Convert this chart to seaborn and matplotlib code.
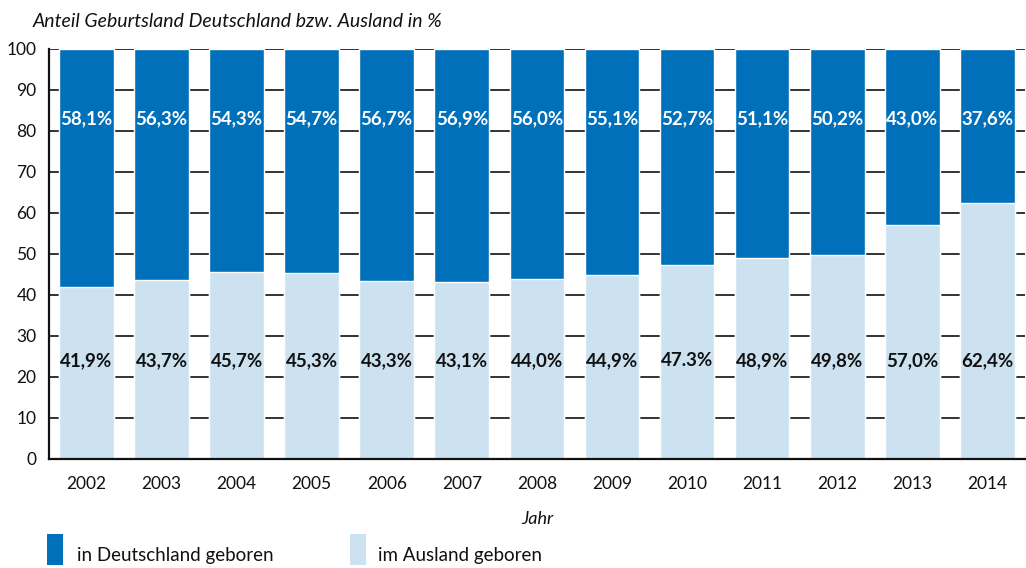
import matplotlib
matplotlib.use("Agg")
import matplotlib.pyplot as plt
from matplotlib.patches import Rectangle
import seaborn as sns
import pandas as pd
import numpy as np

years = ["2002", "2003", "2004", "2005", "2006", "2007", "2008",
         "2009", "2010", "2011", "2012", "2013", "2014"]
deutschland = [58.1, 56.3, 54.3, 54.7, 56.7, 56.9, 56.0, 55.1, 52.7, 51.1, 50.2, 43.0, 37.6]
ausland = [41.9, 43.7, 45.7, 45.3, 43.3, 43.1, 44.0, 44.9, 47.3, 48.9, 49.8, 57.0, 62.4]
label_de = ["58,1%", "56,3%", "54,3%", "54,7%", "56,7%", "56,9%", "56,0%",
            "55,1%", "52,7%", "51,1%", "50,2%", "43,0%", "37,6%"]
label_aus = ["41,9%", "43,7%", "45,7%", "45,3%", "43,3%", "43,1%", "44,0%",
             "44,9%", "47.3%", "48,9%", "49,8%", "57,0%", "62,4%"]
legend_labels = ["in Deutschland geboren", "im Ausland geboren"]

DARK = "#0070BA"
LIGHT = "#CCE2F0"
INK = "#111111"

sns.set_theme(style="white")
plt.rcParams["font.family"] = ["Lato", "DejaVu Sans"]

df = pd.DataFrame({"Jahr": years, "de": deutschland, "aus": ausland})
df["total"] = df["de"] + df["aus"]

fig = plt.figure(figsize=(10.26, 5.68), dpi=100)
ax = fig.add_axes([0.0478, 0.192, 0.951, 0.722])

# stacked bars: full column in dark blue, foreign-born share overlaid in light blue
sns.barplot(data=df, x="Jahr", y="total", color=DARK, width=0.73,
            saturation=1, ax=ax, zorder=3)
sns.barplot(data=df, x="Jahr", y="aus", color=LIGHT, width=0.73,
            saturation=1, ax=ax, zorder=4)

for i in range(len(years)):
    ax.text(i, 83, label_de[i], ha="center", va="center", color="white",
            fontsize=13.5, fontweight="bold", zorder=5)
    ax.text(i, 24, label_aus[i], ha="center", va="center", color=INK,
            fontsize=13.5, fontweight="bold", zorder=5)

ax.set_xlim(-0.5, len(years) - 0.5)
ax.set_ylim(0, 100)
ax.set_yticks(np.arange(0, 101, 10))
ax.tick_params(axis="y", length=0, labelsize=12.5, pad=9, colors=INK)
ax.tick_params(axis="x", which="major", length=0, labelsize=12.5, pad=12, colors=INK)
ax.set_xticks(np.arange(-0.5, len(years), 1.0), minor=True)
ax.tick_params(axis="x", which="minor", length=8, width=1.3, color=INK)

ax.grid(axis="y", color=INK, linewidth=1.2, zorder=0)
ax.set_axisbelow(True)
for s in ["top", "right"]:
    ax.spines[s].set_visible(False)
for s in ["left", "bottom"]:
    ax.spines[s].set_color(INK)
    ax.spines[s].set_linewidth(1.6)
    ax.spines[s].set_zorder(6)

ax.set_ylabel("")
ax.set_xlabel("Jahr", fontstyle="italic", fontsize=13, labelpad=14, color=INK)

fig.text(0.032, 0.962, "Anteil Geburtsland Deutschland bzw. Ausland in %",
         fontstyle="italic", fontsize=14, color=INK, va="center")

# legend swatches and labels along the bottom edge
W, H = 1026.0, 568.0
for (sx, tx), color, text in zip([(47, 77), (350, 378)], [DARK, LIGHT], legend_labels):
    fig.patches.append(Rectangle((sx / W, 3 / H), 16 / W, 31 / H, transform=fig.transFigure,
                                 facecolor=color, edgecolor="none"))
    fig.text(tx / W, 12 / H, text, fontsize=13.5, color=INK, va="center", ha="left")

fig.savefig("out.png", dpi=100)
